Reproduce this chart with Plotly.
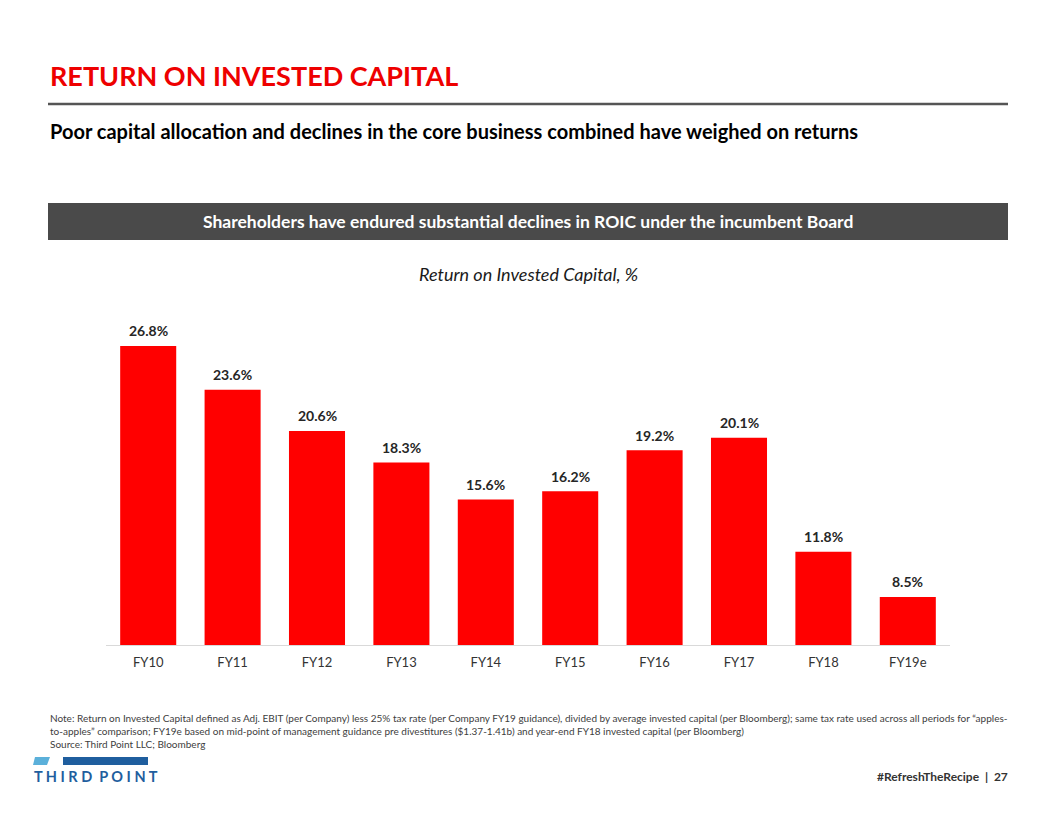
import plotly.graph_objects as go

categories = ["FY10", "FY11", "FY12", "FY13", "FY14", "FY15", "FY16", "FY17", "FY18", "FY19e"]
roic = [26.8, 23.6, 20.6, 18.3, 15.6, 16.2, 19.2, 20.1, 11.8, 8.5]
labels = [f"{v:.1f}%" for v in roic]

OFF = 8  # page body margin
W, H = 1040, 800
def px(x): return (x - OFF) / W
def py(y): return 1 - (y - OFF) / H

FONT = "Lato"
fig = go.Figure()
fig.add_trace(go.Bar(
    x=categories, y=roic,
    marker=dict(color="#FF0000", line=dict(width=0)),
    hoverinfo="skip",
))

fig.update_layout(
    width=W, height=H, margin=dict(l=0, r=0, t=0, b=0),
    paper_bgcolor="white", plot_bgcolor="white", showlegend=False,
    bargap=0.336,
    font=dict(family=FONT),
    xaxis=dict(domain=[px(106), px(950)], showgrid=False, showline=True,
               linecolor="#D9D9D9", linewidth=1, ticks="outside", ticklen=5,
               tickcolor="rgba(0,0,0,0)",
               tickfont=dict(family=FONT, size=13, color="#333333")),
    yaxis=dict(domain=[py(645), py(302)], range=[5, 30], visible=False,
               showgrid=False),
)

ann = []
for c, v, t in zip(categories, roic, labels):
    ann.append(dict(x=c, y=v, xref="x", yref="y", text=f"<b>{t}</b>", showarrow=False,
                    yanchor="middle", yshift=15,
                    font=dict(family=FONT, size=14, color="#262626")))
ann.append(dict(x=px(48), y=py(76), xref="paper", yref="paper", xanchor="left", yanchor="middle",
                text="<b>RETURN ON INVESTED CAPITAL</b>", showarrow=False,
                font=dict(family=FONT, size=27, color="#EE0000")))
ann.append(dict(x=px(48), y=py(131), xref="paper", yref="paper", xanchor="left", yanchor="middle",
                text="<b>Poor capital allocation and declines in the core business combined have weighed on returns</b>",
                showarrow=False, font=dict(family=FONT, size=20, color="#000000")))
ann.append(dict(x=px(528), y=py(221), xref="paper", yref="paper", xanchor="center", yanchor="middle",
                text="<b>Shareholders have endured substantial declines in ROIC under the incumbent Board</b>",
                showarrow=False, font=dict(family=FONT, size=17.5, color="#FFFFFF")))
ann.append(dict(x=px(528), y=py(274), xref="paper", yref="paper", xanchor="center", yanchor="middle",
                text="<i>Return on Invested Capital, %</i>",
                showarrow=False, font=dict(family=FONT, size=18, color="#1a1a1a")))
note = ("Note: Return on Invested Capital defined as Adj. EBIT (per Company) less 25% tax rate (per Company FY19 guidance), divided by average invested capital (per Bloomberg); same tax rate used across all periods for \u201capples-<br>"
        "to-apples\u201d comparison; FY19e based on mid-point of management guidance pre divestitures ($1.37-1.41b) and year-end FY18 invested capital (per Bloomberg)<br>"
        "Source: Third Point LLC; Bloomberg")
ann.append(dict(x=px(48), y=py(710), xref="paper", yref="paper", xanchor="left", yanchor="top",
                text=note, showarrow=False, align="left",
                font=dict(family=FONT, size=10, color="#404040")))
ann.append(dict(x=px(32), y=py(776), xref="paper", yref="paper", xanchor="left", yanchor="middle",
                text="<b>T H I R D  P O I N T</b>", showarrow=False,
                font=dict(family=FONT, size=14.5, color="#1F5E9E")))
ann.append(dict(x=px(1010), y=py(776), xref="paper", yref="paper", xanchor="right", yanchor="middle",
                text="<b>#RefreshTheRecipe  |  27</b>", showarrow=False,
                font=dict(family=FONT, size=12, color="#333333")))
fig.update_layout(annotations=ann)

shapes = [
    dict(type="line", xref="paper", yref="paper", x0=px(48), x1=px(1008), y0=py(104), y1=py(104),
         line=dict(color="#555555", width=2.5)),
    dict(type="rect", xref="paper", yref="paper", x0=px(48), x1=px(1008), y0=py(240), y1=py(203),
         fillcolor="#4A4A4A", line=dict(width=0), layer="below"),
    dict(type="path", xref="paper", yref="paper",
         path=f"M {px(35)},{py(757)} L {px(50)},{py(757)} L {px(47)},{py(765)} L {px(33)},{py(765)} Z",
         fillcolor="#5BB0DA", line=dict(width=0)),
    dict(type="rect", xref="paper", yref="paper", x0=px(63), x1=px(148), y0=py(765), y1=py(757),
         fillcolor="#1F5E9E", line=dict(width=0)),
]
fig.update_layout(shapes=shapes)

fig.write_html("out.html")
